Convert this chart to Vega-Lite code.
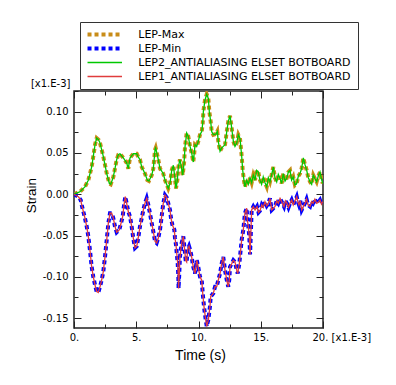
{
  "$schema": "https://vega.github.io/schema/vega-lite/v6.json",
  "width": 249,
  "height": 237,
  "autosize": {"type": "none"},
  "padding": {"left": 74, "top": 91, "right": 73, "bottom": 57},
  "background": "white",
  "config": {
    "view": {"stroke": "#222", "strokeWidth": 1.5},
    "axis": {"grid": false, "domain": false, "tickColor": "#222", "tickWidth": 1, "labelFont": "DejaVu Sans", "labelFontSize": 10, "labelColor": "#000", "labelFlush": false, "labelOverlap": false, "titleFont": "Liberation Sans", "titleFontWeight": "normal", "titleColor": "#000"}
  },
  "datasets": {
    "upper": [
      {"t":0,"v":0},{"t":0.48,"v":0.003},{"t":0.88,"v":0.009},{"t":1.15,"v":0.017},{"t":1.42,"v":0.033},{"t":1.55,"v":0.046},{"t":1.69,"v":0.06},{"t":1.82,"v":0.068},{"t":1.97,"v":0.066},{"t":2.09,"v":0.062},{"t":2.35,"v":0.046},{"t":2.63,"v":0.025},{"t":2.84,"v":0.013},{"t":2.95,"v":0.012},{"t":3.16,"v":0.021},{"t":3.29,"v":0.031},{"t":3.43,"v":0.042},{"t":3.56,"v":0.048},{"t":3.69,"v":0.049},{"t":3.96,"v":0.044},{"t":4.23,"v":0.038},{"t":4.36,"v":0.031},{"t":4.5,"v":0.044},{"t":4.76,"v":0.049},{"t":5.04,"v":0.049},{"t":5.16,"v":0.045},{"t":5.3,"v":0.042},{"t":5.44,"v":0.033},{"t":5.7,"v":0.025},{"t":5.89,"v":0.017},{"t":6.02,"v":0.016},{"t":6.24,"v":0.023},{"t":6.37,"v":0.031},{"t":6.51,"v":0.054},{"t":6.56,"v":0.056},{"t":6.77,"v":0.042},{"t":6.91,"v":0.031},{"t":7.17,"v":0.025},{"t":7.31,"v":0.017},{"t":7.57,"v":0.007},{"t":7.71,"v":0.013},{"t":7.85,"v":0.029},{"t":7.98,"v":0.035},{"t":8.11,"v":0.019},{"t":8.19,"v":0.007},{"t":8.3,"v":0.017},{"t":8.38,"v":0.033},{"t":8.51,"v":0.042},{"t":8.65,"v":0.031},{"t":8.73,"v":0.023},{"t":8.84,"v":0.038},{"t":8.92,"v":0.058},{"t":9.05,"v":0.074},{"t":9.18,"v":0.07},{"t":9.32,"v":0.058},{"t":9.45,"v":0.05},{"t":9.58,"v":0.039},{"t":9.66,"v":0.05},{"t":9.72,"v":0.06},{"t":9.86,"v":0.058},{"t":9.98,"v":0.064},{"t":10.12,"v":0.072},{"t":10.26,"v":0.076},{"t":10.34,"v":0.086},{"t":10.39,"v":0.1},{"t":10.52,"v":0.114},{"t":10.66,"v":0.121},{"t":10.79,"v":0.116},{"t":10.87,"v":0.1},{"t":10.98,"v":0.088},{"t":11.06,"v":0.076},{"t":11.19,"v":0.072},{"t":11.41,"v":0.073},{"t":11.51,"v":0.076},{"t":11.59,"v":0.064},{"t":11.73,"v":0.052},{"t":11.86,"v":0.056},{"t":12.13,"v":0.06},{"t":12.27,"v":0.076},{"t":12.39,"v":0.088},{"t":12.53,"v":0.095},{"t":12.67,"v":0.08},{"t":12.8,"v":0.064},{"t":12.93,"v":0.058},{"t":13.07,"v":0.062},{"t":13.2,"v":0.072},{"t":13.33,"v":0.068},{"t":13.47,"v":0.046},{"t":13.55,"v":0.029},{"t":13.65,"v":0.017},{"t":13.73,"v":0.009},{"t":13.87,"v":0.017},{"t":14.0,"v":0.012},{"t":14.14,"v":0.02},{"t":14.27,"v":0.014},{"t":14.4,"v":0.023},{"t":14.54,"v":0.017},{"t":14.67,"v":0.029},{"t":14.8,"v":0.027},{"t":14.94,"v":0.017},{"t":15.07,"v":0.012},{"t":15.2,"v":0.021},{"t":15.34,"v":0.014},{"t":15.48,"v":0.009},{"t":15.61,"v":0.02},{"t":15.74,"v":0.015},{"t":15.88,"v":0.024},{"t":16.01,"v":0.033},{"t":16.14,"v":0.02},{"t":16.28,"v":0.015},{"t":16.41,"v":0.024},{"t":16.55,"v":0.019},{"t":16.68,"v":0.013},{"t":16.81,"v":0.025},{"t":16.95,"v":0.016},{"t":17.08,"v":0.019},{"t":17.22,"v":0.027},{"t":17.35,"v":0.029},{"t":17.48,"v":0.017},{"t":17.61,"v":0.021},{"t":17.75,"v":0.011},{"t":17.89,"v":0.013},{"t":18.02,"v":0.022},{"t":18.15,"v":0.025},{"t":18.28,"v":0.031},{"t":18.42,"v":0.044},{"t":18.55,"v":0.036},{"t":18.69,"v":0.029},{"t":18.82,"v":0.02},{"t":18.96,"v":0.015},{"t":19.09,"v":0.012},{"t":19.22,"v":0.023},{"t":19.35,"v":0.019},{"t":19.49,"v":0.015},{"t":19.62,"v":0.022},{"t":19.76,"v":0.027},{"t":19.88,"v":0.018},{"t":19.98,"v":0.013}
    ],
    "lower": [
      {"t":0,"v":0},{"t":0.35,"v":-0.003},{"t":0.54,"v":-0.007},{"t":0.62,"v":-0.013},{"t":0.75,"v":-0.021},{"t":0.88,"v":-0.029},{"t":1.02,"v":-0.039},{"t":1.15,"v":-0.051},{"t":1.29,"v":-0.069},{"t":1.42,"v":-0.088},{"t":1.55,"v":-0.1},{"t":1.69,"v":-0.11},{"t":1.82,"v":-0.118},{"t":1.95,"v":-0.119},{"t":2.09,"v":-0.112},{"t":2.22,"v":-0.104},{"t":2.35,"v":-0.094},{"t":2.49,"v":-0.076},{"t":2.63,"v":-0.055},{"t":2.76,"v":-0.035},{"t":2.89,"v":-0.023},{"t":3.03,"v":-0.023},{"t":3.16,"v":-0.029},{"t":3.29,"v":-0.039},{"t":3.43,"v":-0.046},{"t":3.64,"v":-0.043},{"t":3.78,"v":-0.035},{"t":3.91,"v":-0.027},{"t":4.02,"v":-0.013},{"t":4.12,"v":-0.003},{"t":4.23,"v":-0.011},{"t":4.36,"v":-0.021},{"t":4.5,"v":-0.027},{"t":4.63,"v":-0.039},{"t":4.76,"v":-0.053},{"t":4.9,"v":-0.065},{"t":5.04,"v":-0.063},{"t":5.16,"v":-0.053},{"t":5.3,"v":-0.039},{"t":5.44,"v":-0.029},{"t":5.57,"v":-0.019},{"t":5.7,"v":-0.011},{"t":5.84,"v":-0.005},{"t":5.97,"v":-0.013},{"t":6.1,"v":-0.023},{"t":6.24,"v":-0.035},{"t":6.37,"v":-0.045},{"t":6.51,"v":-0.057},{"t":6.64,"v":-0.059},{"t":6.77,"v":-0.053},{"t":6.91,"v":-0.043},{"t":7.04,"v":-0.027},{"t":7.17,"v":-0.011},{"t":7.31,"v":-0.001},{"t":7.45,"v":-0.004},{"t":7.57,"v":-0.011},{"t":7.71,"v":-0.019},{"t":7.79,"v":-0.029},{"t":7.9,"v":-0.037},{"t":8.06,"v":-0.043},{"t":8.11,"v":-0.053},{"t":8.19,"v":-0.061},{"t":8.25,"v":-0.071},{"t":8.33,"v":-0.084},{"t":8.38,"v":-0.1},{"t":8.4,"v":-0.114},{"t":8.45,"v":-0.098},{"t":8.51,"v":-0.076},{"t":8.65,"v":-0.059},{"t":8.78,"v":-0.051},{"t":8.86,"v":-0.063},{"t":8.97,"v":-0.08},{"t":9.05,"v":-0.082},{"t":9.13,"v":-0.067},{"t":9.24,"v":-0.063},{"t":9.32,"v":-0.067},{"t":9.45,"v":-0.076},{"t":9.58,"v":-0.088},{"t":9.72,"v":-0.096},{"t":9.86,"v":-0.08},{"t":9.98,"v":-0.088},{"t":10.12,"v":-0.1},{"t":10.26,"v":-0.104},{"t":10.34,"v":-0.12},{"t":10.44,"v":-0.136},{"t":10.58,"v":-0.152},{"t":10.66,"v":-0.16},{"t":10.79,"v":-0.152},{"t":10.92,"v":-0.136},{"t":10.98,"v":-0.124},{"t":11.19,"v":-0.12},{"t":11.33,"v":-0.112},{"t":11.46,"v":-0.112},{"t":11.59,"v":-0.104},{"t":11.73,"v":-0.096},{"t":11.86,"v":-0.084},{"t":11.99,"v":-0.076},{"t":12.13,"v":-0.092},{"t":12.27,"v":-0.104},{"t":12.39,"v":-0.112},{"t":12.47,"v":-0.104},{"t":12.53,"v":-0.088},{"t":12.67,"v":-0.084},{"t":12.8,"v":-0.08},{"t":12.93,"v":-0.082},{"t":13.07,"v":-0.092},{"t":13.15,"v":-0.096},{"t":13.28,"v":-0.084},{"t":13.39,"v":-0.067},{"t":13.47,"v":-0.055},{"t":13.6,"v":-0.043},{"t":13.73,"v":-0.023},{"t":13.87,"v":-0.017},{"t":13.92,"v":-0.031},{"t":14.0,"v":-0.039},{"t":14.08,"v":-0.051},{"t":14.14,"v":-0.073},{"t":14.2,"v":-0.049},{"t":14.27,"v":-0.019},{"t":14.4,"v":-0.015},{"t":14.54,"v":-0.019},{"t":14.7,"v":-0.015},{"t":14.82,"v":-0.022},{"t":14.94,"v":-0.02},{"t":15.08,"v":-0.013},{"t":15.2,"v":-0.016},{"t":15.34,"v":-0.009},{"t":15.48,"v":-0.014},{"t":15.61,"v":-0.011},{"t":15.74,"v":-0.005},{"t":15.88,"v":-0.019},{"t":16.01,"v":-0.017},{"t":16.14,"v":-0.015},{"t":16.28,"v":-0.008},{"t":16.41,"v":-0.011},{"t":16.55,"v":-0.005},{"t":16.68,"v":-0.009},{"t":16.87,"v":-0.015},{"t":16.98,"v":-0.008},{"t":17.11,"v":-0.011},{"t":17.23,"v":-0.016},{"t":17.35,"v":-0.011},{"t":17.48,"v":-0.007},{"t":17.61,"v":-0.013},{"t":17.75,"v":-0.008},{"t":17.89,"v":-0.003},{"t":17.98,"v":-0.009},{"t":18.07,"v":-0.013},{"t":18.18,"v":-0.008},{"t":18.29,"v":-0.019},{"t":18.42,"v":-0.015},{"t":18.55,"v":-0.011},{"t":18.68,"v":-0.006},{"t":18.8,"v":-0.013},{"t":18.96,"v":-0.015},{"t":19.08,"v":-0.009},{"t":19.2,"v":-0.011},{"t":19.35,"v":-0.006},{"t":19.49,"v":-0.011},{"t":19.62,"v":-0.01},{"t":19.76,"v":-0.007},{"t":19.88,"v":-0.012},{"t":19.98,"v":-0.009}
    ]
  },
  "resolve": {"axis": {"x": "independent", "y": "independent"}},
  "layer": [
    {
      "data": {"name": "upper"},
      "mark": {"type": "line", "clip": true, "strokeCap": "butt"},
      "encoding": {
        "x": {"field": "t", "type": "quantitative", "scale": {"domain": [0, 20], "nice": false, "zero": false},
          "axis": {"orient": "bottom", "title": "Time (s)", "titleFontSize": 14, "titleX": 126, "titleY": 31, "titleBaseline": "alphabetic",
            "values": [0, 2.5, 5, 7.5, 10, 12.5, 15, 17.5, 20],
            "labelExpr": "datum.value % 5 == 0 ? (datum.value == 20 ? '20. [x1.E-3]' : datum.value + '.') : ''",
            "labelAlign": {"condition": {"test": "datum.value == 20", "value": "left"}, "value": "center"},
            "labelOffset": {"condition": {"test": "datum.value == 20", "value": -11}, "value": 0},
            "tickSize": {"condition": {"test": "datum.value % 5 == 0", "value": -7}, "value": -4},
            "labelPadding": 11}},
        "y": {"field": "v", "type": "quantitative", "scale": {"domain": [-0.162, 0.125], "nice": false, "zero": false},
          "axis": {"orient": "left", "title": "Strain", "titleFontSize": 13.5, "titleAngle": -90, "titleX": -39, "titleY": 104, "titleBaseline": "alphabetic", "titleAlign": "center",
            "values": [-0.15, -0.125, -0.1, -0.075, -0.05, -0.025, 0, 0.025, 0.05, 0.075, 0.1, 0.125],
            "labelExpr": "abs(round(datum.value*1000)) % 50 == 0 ? replace(format(datum.value, '.2f'), '\u2212', '-') : ''",
            "tickSize": {"condition": {"test": "abs(round(datum.value*1000)) % 50 == 0", "value": -7}, "value": -4},
            "labelPadding": 13}},
        "color": {"datum": "LEP-Max", "type": "nominal",
          "scale": {"domain": ["LEP-Max", "LEP-Min", "LEP2_ANTIALIASING ELSET BOTBOARD", "LEP1_ANTIALIASING ELSET BOTBOARD"], "range": ["#c88c18", "#0000ff", "#00c800", "#e03c3c"]},
          "legend": {"title": null, "orient": "none", "legendX": 6, "legendY": -69, "symbolType": "M-6,0H6", "symbolSize": 33, "symbolOffset": 12.25, "labelOffset": 28, "padding": 7, "rowPadding": -3.3, "gridAlign": "all", "strokeColor": "#333", "fillColor": "white", "labelFont": "DejaVu Sans", "labelFontSize": 11, "labelColor": "#000", "labelLimit": 400}},
        "strokeDash": {"datum": "LEP-Max", "type": "nominal",
          "scale": {"domain": ["LEP-Max", "LEP-Min", "LEP2_ANTIALIASING ELSET BOTBOARD", "LEP1_ANTIALIASING ELSET BOTBOARD"], "range": [[4, 3], [4, 3], [1, 0], [1, 0]]}},
        "strokeWidth": {"datum": "LEP-Max", "type": "ordinal",
          "scale": {"type": "ordinal", "domain": ["LEP-Max", "LEP-Min", "LEP2_ANTIALIASING ELSET BOTBOARD", "LEP1_ANTIALIASING ELSET BOTBOARD"], "range": [4, 4, 1.3, 1.3]}}
      }
    },
    {
      "data": {"name": "lower"},
      "mark": {"type": "line", "clip": true, "strokeCap": "butt"},
      "encoding": {
        "x": {"field": "t", "type": "quantitative", "axis": null},
        "y": {"field": "v", "type": "quantitative", "axis": null},
        "color": {"datum": "LEP-Min", "type": "nominal",
          "scale": {"domain": ["LEP-Max", "LEP-Min", "LEP2_ANTIALIASING ELSET BOTBOARD", "LEP1_ANTIALIASING ELSET BOTBOARD"], "range": ["#c88c18", "#0000ff", "#00c800", "#e03c3c"]}},
        "strokeDash": {"datum": "LEP-Min", "type": "nominal",
          "scale": {"domain": ["LEP-Max", "LEP-Min", "LEP2_ANTIALIASING ELSET BOTBOARD", "LEP1_ANTIALIASING ELSET BOTBOARD"], "range": [[4, 3], [4, 3], [1, 0], [1, 0]]}},
        "strokeWidth": {"datum": "LEP-Min", "type": "ordinal",
          "scale": {"type": "ordinal", "domain": ["LEP-Max", "LEP-Min", "LEP2_ANTIALIASING ELSET BOTBOARD", "LEP1_ANTIALIASING ELSET BOTBOARD"], "range": [4, 4, 1.3, 1.3]}}
      }
    },
    {
      "data": {"name": "upper"},
      "mark": {"type": "line", "clip": true},
      "encoding": {
        "x": {"field": "t", "type": "quantitative", "axis": null},
        "y": {"field": "v", "type": "quantitative", "axis": null},
        "color": {"datum": "LEP2_ANTIALIASING ELSET BOTBOARD", "type": "nominal",
          "scale": {"domain": ["LEP-Max", "LEP-Min", "LEP2_ANTIALIASING ELSET BOTBOARD", "LEP1_ANTIALIASING ELSET BOTBOARD"], "range": ["#c88c18", "#0000ff", "#00c800", "#e03c3c"]}},
        "strokeDash": {"datum": "LEP2_ANTIALIASING ELSET BOTBOARD", "type": "nominal",
          "scale": {"domain": ["LEP-Max", "LEP-Min", "LEP2_ANTIALIASING ELSET BOTBOARD", "LEP1_ANTIALIASING ELSET BOTBOARD"], "range": [[4, 3], [4, 3], [1, 0], [1, 0]]}},
        "strokeWidth": {"datum": "LEP2_ANTIALIASING ELSET BOTBOARD", "type": "ordinal",
          "scale": {"type": "ordinal", "domain": ["LEP-Max", "LEP-Min", "LEP2_ANTIALIASING ELSET BOTBOARD", "LEP1_ANTIALIASING ELSET BOTBOARD"], "range": [4, 4, 1.3, 1.3]}}
      }
    },
    {
      "data": {"name": "lower"},
      "mark": {"type": "line", "clip": true},
      "encoding": {
        "x": {"field": "t", "type": "quantitative",
          "axis": {"orient": "top", "title": null, "labels": false, "values": [0, 2.5, 5, 7.5, 10, 12.5, 15, 17.5, 20],
            "tickSize": {"condition": {"test": "datum.value % 5 == 0", "value": -7}, "value": -4}}},
        "y": {"field": "v", "type": "quantitative",
          "axis": {"orient": "right", "title": "[x1.E-3]", "titleFont": "DejaVu Sans", "titleFontSize": 10, "titleAngle": 0, "titleAlign": "right", "titleBaseline": "alphabetic", "titleX": -253, "titleY": -5, "labels": false, "values": [-0.15, -0.125, -0.1, -0.075, -0.05, -0.025, 0, 0.025, 0.05, 0.075, 0.1, 0.125],
            "tickSize": {"condition": {"test": "abs(round(datum.value*1000)) % 50 == 0", "value": -7}, "value": -4}}},
        "color": {"datum": "LEP1_ANTIALIASING ELSET BOTBOARD", "type": "nominal",
          "scale": {"domain": ["LEP-Max", "LEP-Min", "LEP2_ANTIALIASING ELSET BOTBOARD", "LEP1_ANTIALIASING ELSET BOTBOARD"], "range": ["#c88c18", "#0000ff", "#00c800", "#e03c3c"]}},
        "strokeDash": {"datum": "LEP1_ANTIALIASING ELSET BOTBOARD", "type": "nominal",
          "scale": {"domain": ["LEP-Max", "LEP-Min", "LEP2_ANTIALIASING ELSET BOTBOARD", "LEP1_ANTIALIASING ELSET BOTBOARD"], "range": [[4, 3], [4, 3], [1, 0], [1, 0]]}},
        "strokeWidth": {"datum": "LEP1_ANTIALIASING ELSET BOTBOARD", "type": "ordinal",
          "scale": {"type": "ordinal", "domain": ["LEP-Max", "LEP-Min", "LEP2_ANTIALIASING ELSET BOTBOARD", "LEP1_ANTIALIASING ELSET BOTBOARD"], "range": [4, 4, 1.3, 1.3]}}
      }
    }
  ]
}
